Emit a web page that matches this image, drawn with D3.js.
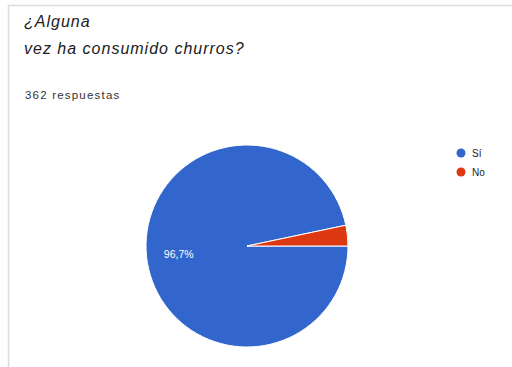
<!DOCTYPE html>
<html>
<head>
<meta charset="utf-8">
<script src="https://cdn.jsdelivr.net/npm/d3@7"></script>
<style>
  html, body { margin: 0; padding: 0; background: #fff; }
  text { font-family: "Liberation Sans", Arial, sans-serif; }
</style>
</head>
<body>
<div id="container"></div>
<script>
'use strict';

const w = 512;
const h = 367;

// Data.
const titleLines = ['¿Alguna', 'vez ha consumido churros?'];
const responses = '362 respuestas';
const labels = ['Sí', 'No'];
const values = [96.7, 3.3];
const colors = ['#3366cc', '#dc3912'];

const svg = d3.select('#container')
    .append('svg')
    .attr('width', w)
    .attr('height', h);

// Card border.
svg.append('rect')
    .attr('x', 8.5)
    .attr('y', 5.5)
    .attr('width', w)
    .attr('height', h)
    .attr('fill', '#fff')
    .attr('stroke', '#dadce0')
    .attr('stroke-width', 1.5);

// Title.
svg.selectAll('.title')
    .data(titleLines)
    .enter()
    .append('text')
    .attr('class', 'title')
    .attr('x', 24)
    .attr('y', (d, i) => 27 + i * 27)
    .attr('font-size', 16)
    .attr('letter-spacing', 1)
    .attr('font-style', 'italic')
    .attr('fill', '#202124')
    .text(d => d);

svg.append('text')
    .attr('x', 25)
    .attr('y', 99)
    .attr('font-size', 11.5)
    .attr('letter-spacing', 1.2)
    .attr('fill', '#333')
    .text(responses);

// Pie.
const cx = 247;
const cy = 246;
const r = 101;

const pie = d3.pie()
    .sort(null)
    .startAngle(Math.PI / 2)
    .endAngle(Math.PI / 2 + 2 * Math.PI);
const arcs = pie(values);
const arc = d3.arc().innerRadius(0).outerRadius(r);

const g = svg.append('g')
    .attr('transform', 'translate(' + cx + ',' + cy + ')');

g.selectAll('path')
    .data(arcs)
    .enter()
    .append('path')
    .attr('d', arc)
    .attr('fill', (d, i) => colors[i])
    .attr('stroke', '#fff')
    .attr('stroke-width', 1);

// Percentage label for big slice.
const labelArc = d3.arc().innerRadius(r * 0.68).outerRadius(r * 0.68);
g.selectAll('.pct')
    .data(arcs.filter(d => d.data > 5))
    .enter()
    .append('text')
    .attr('class', 'pct')
    .attr('transform', d => 'translate(' + labelArc.centroid(d) + ')')
    .attr('text-anchor', 'middle')
    .attr('dy', '0.45em')
    .attr('font-size', 10.5)
    .attr('fill', '#fff')
    .text(d => d3.format('.1f')(d.data).replace('.', ',') + '%');

// Legend.
const legend = svg.append('g')
    .attr('transform', 'translate(461, 153)');

legend.selectAll('circle')
    .data(labels)
    .enter()
    .append('circle')
    .attr('cx', 0)
    .attr('cy', (d, i) => i * 19)
    .attr('r', 4.5)
    .attr('fill', (d, i) => colors[i]);

legend.selectAll('text')
    .data(labels)
    .enter()
    .append('text')
    .attr('x', 11)
    .attr('y', (d, i) => i * 19)
    .attr('dy', '0.35em')
    .attr('font-size', 10)
    .attr('fill', '#222')
    .text(d => d);
</script>
</body>
</html>
